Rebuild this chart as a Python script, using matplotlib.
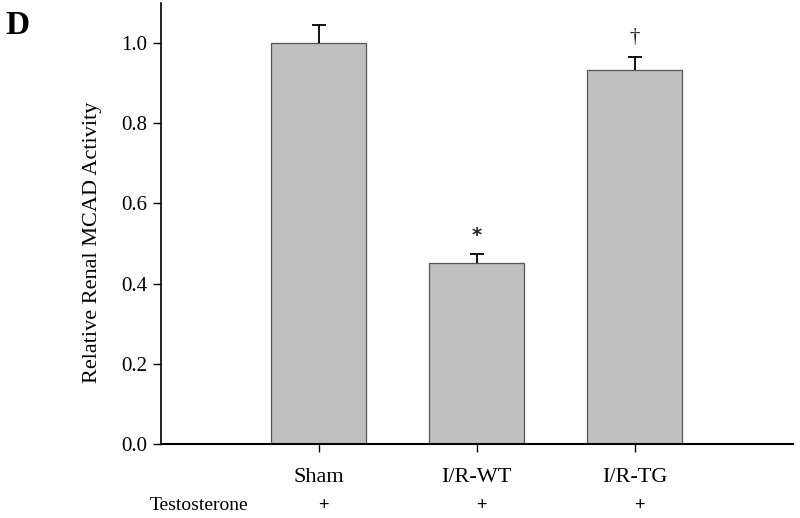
import numpy as np
import matplotlib.pyplot as plt
from matplotlib.transforms import blended_transform_factory

# data
groups = ['Sham', 'I/R-WT', 'I/R-TG']
activity = [1.0, 0.451, 0.933]
err = [0.045, 0.023, 0.032]
marks = ['', '*', '\u2020']
testo = ['+', '+', '+']

plt.rcParams['font.family'] = ['Liberation Serif', 'DejaVu Serif']

fig = plt.figure(figsize=(8, 5.18), dpi=100)
ax = fig.add_axes([0.201, 0.1429, 0.790, 0.8513])

x = np.arange(len(groups))
top = np.array(activity) + np.array(err)
ax.bar(x, activity, width=0.6, color='#c0c0c0', edgecolor='#555555', linewidth=0.9, zorder=2)
# upper error bars only
ax.vlines(x, activity, top, color='black', linewidth=1.3, zorder=3)
ax.hlines(top, x - 0.045, x + 0.045, color='black', linewidth=1.3, zorder=3)

# significance marks
for xi, t, m in zip(x, top, marks):
    if m == '*':
        ax.text(xi, t + 0.045, m, ha='center', va='center', fontsize=14,
                family=['DejaVu Sans'], fontweight='bold', color='#222222')
    elif m:
        ax.text(xi, t + 0.05, m, ha='center', va='center', fontsize=15, color='#222222')

ax.set_xlim(-1.0, 3.0)
ax.set_ylim(0, 1.1)
ax.set_yticks([0, 0.2, 0.4, 0.6, 0.8, 1.0])
ax.set_yticklabels(['0.0', '0.2', '0.4', '0.6', '0.8', '1.0'])
ax.set_xticks(x)
ax.set_xticklabels(groups)
ax.tick_params(axis='both', direction='out', length=6, width=1, labelsize=15)
ax.tick_params(axis='x', labelsize=16, pad=11)
ax.set_ylabel('Relative Renal MCAD Activity', fontsize=16)
ax.yaxis.set_label_coords(-0.093, 0.458)

for s in ['top', 'right']:
    ax.spines[s].set_visible(False)
ax.spines['left'].set_linewidth(1.2)
ax.spines['bottom'].set_linewidth(1.5)

# testosterone row
tr = blended_transform_factory(ax.transData, fig.transFigure)
fig.text(150 / 800, 1 - 505 / 518, 'Testosterone', ha='left', va='center', fontsize=14,
         family=['Liberation Serif'])
for xi, t in zip(x, testo):
    ax.text(xi + 0.03, 1 - 505 / 518, t, transform=tr, ha='center', va='center',
            fontsize=13, family=['Liberation Sans'])

fig.text(5 / 800, 1 - 25 / 518, 'D', fontsize=24, fontweight='bold', ha='left', va='center')

fig.savefig('out.png', dpi=100)
